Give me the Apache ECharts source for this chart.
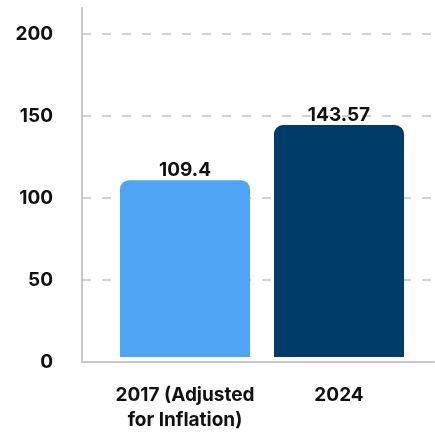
<!DOCTYPE html>
<html>
<head>
<meta charset="utf-8">
<script src="https://cdn.jsdelivr.net/npm/echarts@6/dist/echarts.min.js"></script>
<style>
  html, body { margin: 0; padding: 0; background: #fff; }
  #chart { width: 435px; height: 433px; }
</style>
</head>
<body>
<div id="chart"></div>
<script>
// Chart data
const categories = ['2017 (Adjusted\nfor Inflation)', '2024'];
const values = [109.4, 143.57];
const barColors = ['#51A5F5', '#003C69'];
const yTicks = [0, 50, 100, 150, 200];

const yMax = 216;
const font = 'Inter, "Noto Sans", sans-serif';
const textColor = '#111111';
const gridTop = 8, gridBottom = 71;

const chart = echarts.init(document.getElementById('chart'));
chart.setOption({
  animation: false,
  grid: [
    // frame grid: y axis, dashed guides and baseline
    { left: 82, right: 1, top: gridTop, bottom: gridBottom },
    // bar grid: categories and bars
    { left: 108, right: 19, top: gridTop, bottom: gridBottom }
  ],
  xAxis: [
    {
      gridIndex: 0, type: 'value', min: 0, max: 1,
      axisLine: { show: true, lineStyle: { color: '#c8c8c8', width: 2 } },
      axisTick: { show: false }, axisLabel: { show: false }, splitLine: { show: false }
    },
    {
      gridIndex: 1, type: 'category', data: categories,
      axisLine: { show: false }, axisTick: { show: false },
      axisLabel: {
        color: textColor, fontFamily: font, fontSize: 19, fontWeight: 650,
        lineHeight: 25, margin: 26, interval: 0
      }
    }
  ],
  yAxis: [
    {
      gridIndex: 0, type: 'value', min: 0, max: yMax, interval: 50,
      axisLine: { show: true, lineStyle: { color: '#c8c8c8', width: 2 } },
      axisTick: { show: false },
      axisLabel: {
        color: textColor, fontFamily: font, fontSize: 19, fontWeight: 650, margin: 29,
        showMaxLabel: false,
        formatter: v => (yTicks.indexOf(v) >= 0 ? String(v) : '')
      },
      splitLine: {
        show: true,
        lineStyle: {
          color: ['#d2d2d2', '#d2d2d2', '#d2d2d2', '#d2d2d2', '#d2d2d2', 'rgba(0,0,0,0)'],
          width: 2, type: [9, 11]
        }
      }
    },
    {
      gridIndex: 1, type: 'value', min: 0, max: yMax, show: false, splitLine: { show: false }
    }
  ],
  series: [{
    type: 'bar',
    xAxisIndex: 1, yAxisIndex: 1,
    barWidth: 130,
    data: values.map((v, i) => ({ value: v, itemStyle: { color: barColors[i] } })),
    itemStyle: { borderRadius: [9, 9, 0, 0] },
    label: {
      show: true, position: 'top', distance: 0,
      color: textColor, fontFamily: font, fontSize: 19, fontWeight: 650,
      formatter: p => String(values[p.dataIndex])
    }
  }]
});
</script>
</body>
</html>
